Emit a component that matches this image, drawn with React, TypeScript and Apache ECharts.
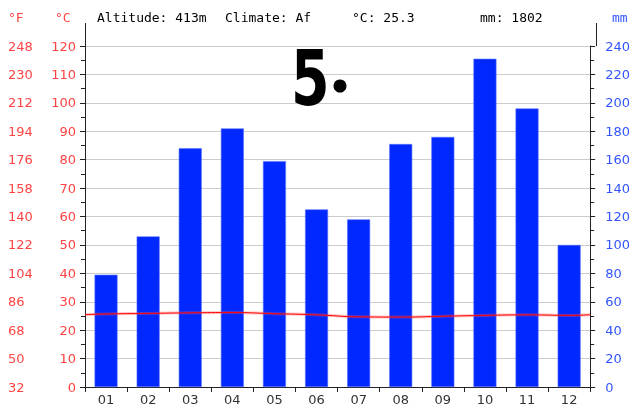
import React, { useEffect, useRef } from "react";
import * as echarts from "echarts";

const months = ["01", "02", "03", "04", "05", "06", "07", "08", "09", "10", "11", "12"];
const precipitation = [79, 106, 168, 182, 159, 125, 118, 171, 176, 231, 196, 100];
const temperature = [25.7, 25.9, 26.1, 26.2, 25.8, 25.4, 24.7, 24.6, 24.9, 25.2, 25.4, 25.2];
const headerTexts = ["Altitude: 413m", "Climate: Af", "°C: 25.3", "mm: 1802"];
const headerX = [97, 225, 352, 480];

const RED = "#ff4444";
const BLUE = "#3355ff";
const AXIS = "#222";

export default function App() {
  const ref = useRef<HTMLDivElement>(null);
  useEffect(() => {
    if (!ref.current) return;
    const chart = echarts.init(ref.current, null, { renderer: "svg" });
    const edge = (temperature[0] + temperature[11]) / 2;
    const lineData: number[][] = [[0, edge]];
    temperature.forEach((t, i) => lineData.push([i + 0.5, t]));
    lineData.push([12, edge]);

    const left = 85;
    const right = 596;
    const top = 46;
    const bottom = 387;

    chart.setOption({
      animation: false,
      grid: { left, right: 633 - right, top, bottom: 407 - bottom, containLabel: false },
      xAxis: [
        {
          type: "category",
          data: months,
          boundaryGap: true,
          axisLine: { show: true, lineStyle: { color: AXIS, width: 1 } },
          axisTick: { show: true, length: 5, lineStyle: { color: AXIS } },
          axisLabel: { color: "#333", fontFamily: "DejaVu Sans", fontSize: 13, margin: 6 },
          splitLine: { show: false },
        },
        { type: "value", min: 0, max: 12, show: false },
      ],
      yAxis: [
        {
          type: "value",
          min: 0,
          max: 120,
          interval: 10,
          position: "left",
          axisLine: { show: true, lineStyle: { color: AXIS, width: 1 } },
          axisTick: { show: true, length: 5, inside: false, lineStyle: { color: AXIS } },
          minorTick: { show: true, splitNumber: 2, length: 4, lineStyle: { color: AXIS } },
          axisLabel: { color: RED, fontFamily: "DejaVu Sans", fontSize: 13, margin: 9 },
          splitLine: { show: true, lineStyle: { color: "#cccccc", width: 1 } },
        },
        {
          type: "value",
          min: 32,
          max: 248,
          interval: 18,
          position: "left",
          offset: 77,
          axisLine: { show: false },
          axisTick: { show: false },
          axisLabel: { color: RED, fontFamily: "DejaVu Sans", fontSize: 13, margin: 0, align: "left" },
          splitLine: { show: false },
        },
        {
          type: "value",
          min: 0,
          max: 240,
          interval: 20,
          position: "right",
          axisLine: { show: true, lineStyle: { color: AXIS, width: 1 } },
          axisTick: { show: true, length: 5, lineStyle: { color: AXIS } },
          minorTick: { show: true, splitNumber: 2, length: 4, lineStyle: { color: AXIS } },
          axisLabel: { color: BLUE, fontFamily: "DejaVu Sans", fontSize: 13, margin: 15 },
          splitLine: { show: false },
        },
      ],
      series: [
        {
          type: "bar",
          data: precipitation,
          xAxisIndex: 0,
          yAxisIndex: 2,
          barWidth: 23,
          itemStyle: { color: "#0028ff", borderColor: "#5a72ff", borderWidth: 0.6 },
          z: 2,
        },
        {
          type: "line",
          data: lineData,
          xAxisIndex: 1,
          yAxisIndex: 0,
          smooth: true,
          symbol: "none",
          lineStyle: { color: "rgba(255,80,80,0.35)", width: 3 },
          z: 3,
        },
        {
          type: "line",
          data: lineData,
          xAxisIndex: 1,
          yAxisIndex: 0,
          smooth: true,
          symbol: "none",
          lineStyle: { color: "#ff0000", width: 1 },
          z: 4,
        },
      ],
      graphic: [
        { type: "line", shape: { x1: left + 0.5, y1: 23, x2: left + 0.5, y2: top }, style: { stroke: AXIS, lineWidth: 1 } },
        { type: "line", shape: { x1: right + 0.5, y1: 23, x2: right + 0.5, y2: top }, style: { stroke: AXIS, lineWidth: 1 } },
        { type: "text", x: 8, y: 17, style: { text: "°F", fill: RED, font: "13px 'DejaVu Sans Mono'", verticalAlign: "middle" } },
        { type: "text", x: 55, y: 17, style: { text: "°C", fill: RED, font: "13px 'DejaVu Sans Mono'", verticalAlign: "middle" } },
        { type: "text", x: 612, y: 17, style: { text: "mm", fill: BLUE, font: "13px 'DejaVu Sans Mono'", verticalAlign: "middle" } },
        ...headerTexts.map((t, i) => ({
          type: "text",
          x: headerX[i],
          y: 17,
          style: { text: t, fill: "#000", font: "13px 'DejaVu Sans Mono'", verticalAlign: "middle" },
        })),
        {
          type: "text",
          x: 291,
          y: 79,
          scaleX: 0.72,
          style: { text: "5", fill: "#000", font: "bold 77px 'DejaVu Sans'", verticalAlign: "middle" },
          z: 10,
        },
        { type: "circle", shape: { cx: 340, cy: 86, r: 6.5 }, style: { fill: "#000" }, z: 10 },
      ],
    });
    return () => chart.dispose();
  }, []);
  return <div ref={ref} style={{ position: "fixed", left: 0, top: 0, width: 633, height: 407 }} />;
}
